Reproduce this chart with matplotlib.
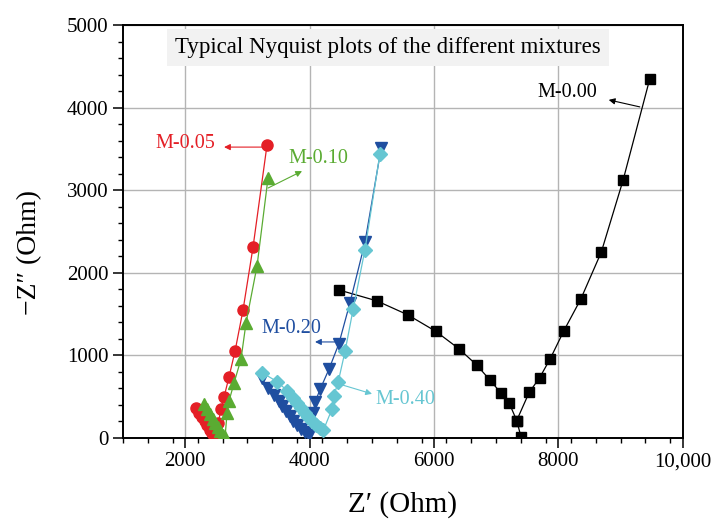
import numpy as np
import matplotlib
matplotlib.use("Agg")
import matplotlib.pyplot as plt

plt.rcParams['font.family'] = ['Liberation Serif', 'DejaVu Serif']

# Nyquist data (Z', -Z''), ohm
m000_x = [4480, 5080, 5580, 6030, 6400, 6690, 6900, 7080, 7210, 7330,
          7530, 7700, 7870, 8090, 8360, 8690, 9040, 9470]
m000_y = [1790, 1660, 1490, 1290, 1080, 880, 700, 540, 420, 210,
          550, 730, 960, 1300, 1680, 2250, 3120, 4350]
m000_tail_x = [7330, 7400]
m000_tail_y = [210, 10]

m005_x = [2170, 2220, 2270, 2310, 2350, 2390, 2430, 2470, 2530,
          2576, 2624, 2704, 2801, 2929, 3090, 3315]
m005_y = [360, 300, 250, 200, 150, 100, 60, 20, 180,
          351, 496, 739, 1053, 1550, 2312, 3550]

m010_x = [2300, 2350, 2400, 2440, 2480, 2520, 2560, 2600, 2640,
          2672, 2704, 2785, 2897, 2977, 3154, 3331]
m010_y = [410, 350, 290, 230, 180, 130, 80, 40, 10,
          303, 448, 666, 956, 1392, 2082, 3148]

m020_x = [3230, 3330, 3420, 3500, 3560, 3620, 3680, 3740, 3800, 3860, 3920, 3990,
          4060, 4090, 4170, 4310, 4470, 4650, 4890, 5150]
m020_y = [720, 600, 520, 450, 380, 320, 260, 200, 150, 110, 70, 40,
          300, 440, 590, 830, 1140, 1640, 2370, 3510]

m040_x = [3235, 3480, 3640, 3740, 3800, 3860, 3920, 3980, 4040, 4100, 4160, 4220,
          4360, 4390, 4460, 4570, 4700, 4890, 5130]
m040_y = [790, 680, 570, 480, 420, 360, 300, 250, 200, 160, 120, 90,
          350, 510, 680, 1050, 1560, 2280, 3440]

# label text position, arrow tail, arrow head (data units)
labels = ['M-0.00', 'M-0.05', 'M-0.10', 'M-0.20', 'M-0.40']
label_pos = [(8140, 4180), (2000, 3570), (4140, 3390), (3700, 1320), (5540, 470)]
arrow_tail = [(9310, 4010), (3235, 3523), (3331, 3027), (4457, 1162), (4521, 642)]
arrow_head = [(8810, 4095), (2624, 3523), (3878, 3232), (4087, 1162), (5003, 533)]

c_black = '#000000'
c_red = '#e41f26'
c_green = '#5aab32'
c_blue = '#1f4ea0'
c_cyan = '#66c6d2'
colors = [c_black, c_red, c_green, c_blue, c_cyan]

fig = plt.figure(figsize=(7.24, 5.25), dpi=100)
ax = fig.add_axes([0.170, 0.166, 0.773, 0.786])

ax.plot(m000_x, m000_y, color=c_black, lw=0.9, marker='s', ms=7.5, zorder=3)
ax.plot(m000_tail_x, m000_tail_y, color=c_black, lw=0.9, marker='s', ms=7.5, zorder=3)
ax.plot(m020_x, m020_y, color=c_blue, lw=0.9, marker='v', ms=8.5, zorder=4)
ax.plot(m040_x, m040_y, color=c_cyan, lw=0.9, marker='D', ms=7, zorder=5)
ax.plot(m005_x, m005_y, color=c_red, lw=0.9, marker='o', ms=8, zorder=6)
ax.plot(m010_x, m010_y, color=c_green, lw=0.9, marker='^', ms=8.5, zorder=7)

for lab, pos, tail, head, col in zip(labels, label_pos, arrow_tail, arrow_head, colors):
    ax.text(pos[0], pos[1], lab, color=col, fontsize=14.5, ha='center', va='center', zorder=8)
    ax.annotate('', xy=head, xytext=tail,
                arrowprops=dict(arrowstyle='-|>', color=col, lw=0.8,
                                mutation_scale=9, shrinkA=0, shrinkB=0),
                zorder=8)

ax.text(0.474, 0.947, 'Typical Nyquist plots of the different mixtures',
        transform=ax.transAxes, ha='center', va='center', fontsize=16.5,
        bbox=dict(boxstyle='square,pad=0.35', fc='#f2f2f2', ec='none'), zorder=9)

ax.set_xlim(1000, 10000)
ax.set_ylim(0, 5000)
ax.set_xticks([2000, 4000, 6000, 8000, 10000])
ax.set_xticklabels(['2000', '4000', '6000', '8000', '10,000'])
ax.set_yticks([0, 1000, 2000, 3000, 4000, 5000])
ax.set_xticks(np.arange(1000, 10001, 400), minor=True)
ax.set_yticks(np.arange(0, 5001, 200), minor=True)
ax.tick_params(which='major', direction='out', length=7, width=1.1, labelsize=15)
ax.tick_params(which='minor', direction='out', length=3.5, width=1)
ax.grid(True, which='major', color='#b4b4b4', lw=1)
ax.set_axisbelow(True)
for s in ax.spines.values():
    s.set_linewidth(1.4)

ax.set_xlabel('Z\u2032 (Ohm)', fontsize=21, labelpad=14)
ax.set_ylabel('\u2212Z\u2033 (Ohm)', fontsize=20)
ax.yaxis.set_label_coords(-0.145, 0.45)

fig.savefig('out.png', dpi=100)
